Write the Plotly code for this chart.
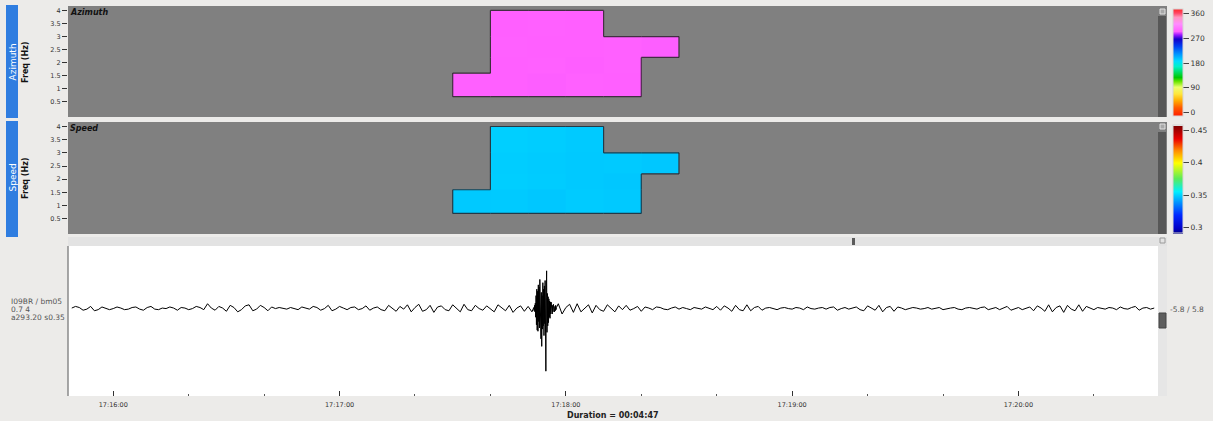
import numpy as np
import pandas as pd
import plotly.graph_objects as go

W, H = 1213, 421


def fx(px):
    return px / W


def fy(py):
    return 1 - py / H


DAY = "2021-03-14 "
record_start = "17:15:48"
record_end = "17:20:37"

# Detection cells: 10 s time windows x frequency bands
cell_time_edges = ["17:17:30", "17:17:40", "17:17:50", "17:18:00",
                   "17:18:10", "17:18:20", "17:18:30"]
freq_band_edges = [0.7, 1.6, 2.2, 3.0, 4.0]

azimuth_cells = [
    [293.4, 293.1, 292.8, 293.6, 293.2, None],
    [None, 293.0, 293.5, 292.9, 293.3, None],
    [None, 293.6, 293.2, 293.0, 293.4, 292.8],
    [None, 293.1, 293.4, 293.2, None, None],
]
speed_cells = [
    [0.3490, 0.3492, 0.3488, 0.3494, 0.3490, None],
    [None, 0.3500, 0.3496, 0.3490, 0.3488, None],
    [None, 0.3498, 0.3494, 0.3490, 0.3492, 0.3488],
    [None, 0.3502, 0.3498, 0.3492, None, None],
]

az_ticks = [0, 90, 180, 270, 360]
speed_ticks = [0.3, 0.35, 0.4, 0.45]
freq_ticks = [0.5, 1, 1.5, 2, 2.5, 3, 3.5, 4]

# Beam trace, 1 s samples starting 17:15:49
noise_values = [
    0.05, 0.20, 0.10, -0.15, -0.05, 0.20, -0.20, -0.10, 0.15, 0.05,
    -0.10, 0.00, 0.15, 0.05, -0.10, -0.05, 0.10, 0.15, -0.05, -0.15,
    0.10, 0.20, -0.05, -0.10, 0.05, 0.00, 0.15, 0.05, -0.15, 0.10,
    0.05, -0.10, 0.00, 0.20, 0.10, -0.10, 0.45, 0.05, -0.15, 0.20,
    0.05, -0.25, 0.30, 0.10, -0.30, -0.10, 0.25, 0.35, -0.20, -0.05,
    0.30, 0.10, -0.20, 0.15, 0.00, 0.10, 0.05, -0.05, 0.10, 0.00,
    -0.10, 0.15, 0.05, -0.05, 0.20, 0.10, -0.15, 0.00, 0.30, -0.20,
    -0.05, 0.20, 0.05, -0.10, 0.10, 0.15, -0.10, 0.00, 0.25, -0.15,
    0.05, 0.15, -0.10, -0.20, 0.30, 0.05, -0.25, 0.20, -0.05, 0.35,
    -0.30, 0.10, 0.40, -0.25, -0.10, 0.30, -0.35, 0.15, 0.25, -0.10,
    -0.20, 0.35, 0.05, -0.30, 0.40, -0.10, -0.20, 0.30, 0.00, -0.15,
    0.25, -0.05, -0.30, 0.35, 0.10, -0.20, 0.30, -0.35, 0.05, 0.25,
    -0.25, 0.20, -0.30, 0.50, -0.60, 0.70, -0.80, 0.60, -0.40, 0.45,
    -0.50, 0.10, 0.40, -0.35, 0.45, -0.30, 0.05, 0.35, -0.40, 0.30,
    -0.10, -0.25, 0.35, 0.05, -0.30, 0.25, -0.10, 0.30, -0.15, 0.00,
    0.20, -0.25, 0.15, 0.05, -0.10, 0.15, 0.10, -0.05, -0.10, 0.05,
    0.15, -0.05, 0.10, 0.00, -0.10, 0.10, 0.05, -0.05, 0.15, 0.00,
    -0.10, 0.20, -0.15, 0.25, 0.05, -0.25, 0.30, -0.10, -0.20, 0.35,
    -0.20, 0.10, 0.20, -0.15, 0.05, 0.10, 0.00, -0.10, 0.05, 0.10,
    0.00, -0.05, 0.10, 0.05, -0.10, 0.15, 0.00, -0.05, 0.05, 0.10,
    -0.05, 0.10, 0.15, -0.15, 0.00, 0.10, -0.05, 0.05, 0.15, -0.10,
    -0.20, 0.25, 0.05, -0.15, 0.30, -0.30, 0.10, 0.20, -0.25, 0.15,
    0.05, -0.10, 0.00, 0.10, 0.05, -0.05, 0.00, 0.10, -0.05, 0.05,
    0.10, -0.10, 0.00, 0.05, 0.10, -0.05, -0.10, 0.05, 0.10, 0.00,
    -0.05, 0.10, 0.15, -0.10, 0.00, 0.10, -0.10, 0.05, 0.20, -0.15,
    0.00, 0.10, -0.10, 0.05, 0.15, -0.20, 0.25, 0.05, -0.25, 0.35,
    -0.30, 0.10, 0.25, -0.35, 0.30, -0.05, -0.20, 0.35, -0.25, 0.20,
    0.05, -0.10, 0.10, 0.00, -0.05, 0.10, 0.05, -0.10, 0.15, 0.00,
    -0.05, 0.10, 0.20, -0.15, 0.05, 0.10, -0.05, 0.05,
]
noise_first = "17:15:49"

# Arrival, 0.1 s samples starting 17:17:51.5
burst_values = [
    0.1, -0.2, 0.3, -0.3, 0.5, -0.8, 1.2, -1.5, 1.8, -2.0,
    1.6, -2.1, 2.2, -1.2, 2.0, -1.8, 2.7, -2.4, 1.9, -2.8,
    1.5, -3.5, 1.2, -1.9, 2.4, -1.6, 1.8, -2.5, 2.1, -1.4,
    2.6, -3.0, -5.8, 1.0, 3.5, -2.2, 1.4, -1.6, 1.1, -1.3,
    0.9, -0.8, 0.7, -0.9, 0.6, -0.5, 0.6, -0.4, 0.4, -0.5,
    0.3, -0.3, 0.4, -0.2, 0.3, -0.3, 0.2, -0.2, 0.3, -0.1,
    0.1,
]
burst_first = "17:17:51.5"

FONT = "DejaVu Sans"

# Colour scales defined on data values
az_cmin, az_cmax = -15, 375
az_stops = [
    (-15, "rgb(255,30,0)"), (15, "rgb(255,90,0)"), (40, "rgb(255,170,0)"),
    (65, "rgb(255,230,60)"), (90, "rgb(235,255,110)"), (110, "rgb(110,230,0)"),
    (125, "rgb(0,200,0)"), (145, "rgb(0,220,100)"), (165, "rgb(0,240,200)"),
    (185, "rgb(0,220,255)"), (210, "rgb(0,150,255)"), (240, "rgb(0,60,240)"),
    (265, "rgb(20,0,200)"), (280, "rgb(150,20,255)"), (293, "rgb(255,95,255)"),
    (320, "rgb(255,140,255)"), (345, "rgb(255,150,190)"), (360, "rgb(255,70,100)"),
    (375, "rgb(255,40,40)"),
]
az_colorscale = [[(v - az_cmin) / (az_cmax - az_cmin), c] for v, c in az_stops]

sp_cmin, sp_cmax = 0.291, 0.457
sp_stops = [
    (0.291, "rgb(0,0,130)"), (0.30, "rgb(0,0,200)"), (0.32, "rgb(0,40,255)"),
    (0.34, "rgb(0,150,255)"), (0.356, "rgb(0,240,255)"), (0.376, "rgb(90,235,90)"),
    (0.40, "rgb(255,255,0)"), (0.419, "rgb(255,140,0)"), (0.437, "rgb(235,0,0)"),
    (0.457, "rgb(130,0,0)"),
]
sp_colorscale = [[(v - sp_cmin) / (sp_cmax - sp_cmin), c] for v, c in sp_stops]

x_edges = [pd.Timestamp(DAY + t) for t in cell_time_edges]


def outline(cells):
    """Boundary segments of the filled cell region."""
    nr, nc = len(cells), len(cells[0])

    def filled(r, c):
        return 0 <= r < nr and 0 <= c < nc and cells[r][c] is not None

    xs, ys = [], []
    for r in range(nr):
        for c in range(nc):
            if not filled(r, c):
                continue
            x0, x1 = x_edges[c], x_edges[c + 1]
            y0, y1 = freq_band_edges[r], freq_band_edges[r + 1]
            if not filled(r - 1, c):
                xs += [x0, x1, None]; ys += [y0, y0, None]
            if not filled(r + 1, c):
                xs += [x0, x1, None]; ys += [y1, y1, None]
            if not filled(r, c - 1):
                xs += [x0, x0, None]; ys += [y0, y1, None]
            if not filled(r, c + 1):
                xs += [x1, x1, None]; ys += [y0, y1, None]
    return xs, ys


def cbar(top_px, length, ticks, labels):
    return dict(
        x=fx(1173), xanchor="left", xpad=0,
        y=fy(top_px), yanchor="top", ypad=0,
        len=length, lenmode="pixels", thickness=10, thicknessmode="pixels",
        tickvals=ticks, ticktext=labels, ticks="outside", ticklen=6,
        tickcolor="#444", tickfont=dict(size=7.5, color="#333", family=FONT),
        outlinewidth=1, outlinecolor="#d6d6d6",
    )


fig = go.Figure()

fig.add_trace(go.Heatmap(
    x=x_edges, y=freq_band_edges, z=azimuth_cells,
    colorscale=az_colorscale, zmin=az_cmin, zmax=az_cmax,
    xaxis="x", yaxis="y", hoverinfo="skip",
    colorbar=cbar(9.5, 107, az_ticks, [str(v) for v in az_ticks]),
))
ox, oy = outline(azimuth_cells)
fig.add_trace(go.Scatter(x=ox, y=oy, mode="lines", xaxis="x", yaxis="y",
                         line=dict(color="rgba(45,35,45,0.85)", width=1.2),
                         hoverinfo="skip"))

fig.add_trace(go.Heatmap(
    x=x_edges, y=freq_band_edges, z=speed_cells,
    colorscale=sp_colorscale, zmin=sp_cmin, zmax=sp_cmax,
    xaxis="x2", yaxis="y2", hoverinfo="skip",
    colorbar=cbar(125.5, 108, speed_ticks, ["0.3", "0.35", "0.4", "0.45"]),
))
ox, oy = outline(speed_cells)
fig.add_trace(go.Scatter(x=ox, y=oy, mode="lines", xaxis="x2", yaxis="y2",
                         line=dict(color="rgba(30,40,50,0.85)", width=1.2),
                         hoverinfo="skip"))

# Waveform: background samples with the arrival segment spliced in
noise_t = pd.Timestamp(DAY + noise_first) + pd.to_timedelta(np.arange(len(noise_values)), unit="s")
burst_t = pd.Timestamp(DAY + burst_first) + pd.to_timedelta(np.arange(len(burst_values)) * 100, unit="ms")
keep = (noise_t < burst_t[0]) | (noise_t > burst_t[-1])
wave = pd.concat([
    pd.Series(np.array(noise_values)[keep], index=noise_t[keep]),
    pd.Series(burst_values, index=burst_t),
]).sort_index()
fig.add_trace(go.Scatter(x=wave.index, y=wave.values, mode="lines",
                         xaxis="x3", yaxis="y3", hoverinfo="skip",
                         line=dict(color="black", width=1)))

xdom = [fx(68), fx(1158)]
xrange_ = [DAY + record_start, DAY + record_end]
yaxis_common = dict(
    range=[-0.08, 4.17], tickvals=freq_ticks, ticks="outside", ticklen=5,
    tickcolor="#333", tickwidth=1, tickfont=dict(size=6.5, color="#333", family=FONT),
    showgrid=False, zeroline=False, fixedrange=True,
)
xaxis_top = dict(domain=xdom, type="date", range=xrange_, showticklabels=False,
                 ticks="", showgrid=False, zeroline=False)

shapes = []


def rect(x0, y0, x1, y1, fill, line=None, lw=0, layer="below"):
    shapes.append(dict(type="rect", xref="paper", yref="paper",
                       x0=fx(x0), x1=fx(x1), y0=fy(y1), y1=fy(y0),
                       fillcolor=fill, layer=layer,
                       line=dict(color=line or fill, width=lw)))


# Side tabs
rect(6, 5, 18, 118, "#2f7de0")
rect(6, 121, 18, 237, "#2f7de0")
# Spectral panels
rect(68, 6, 1167, 117, "#808080")
rect(68, 122, 1167, 234, "#808080")
rect(1158, 16, 1166, 117, "#575757", layer="above")
rect(1158, 132, 1166, 234, "#575757", layer="above")
rect(1160, 9, 1165, 14, "#a8a8a8", "#e0e0e0", 1, layer="above")
rect(1160, 124, 1165, 129, "#a8a8a8", "#e0e0e0", 1, layer="above")
# Trace panel frame, header and scrollbar
rect(68, 237, 1167, 246, "#e3e3e3")
rect(852, 238, 855, 245, "#5a5a5a", layer="above")
rect(1160, 238, 1165, 243, "#e3e3e3", "#9a9a9a", 1, layer="above")
rect(1158, 246, 1167, 396, "#e6e6e6", layer="above")
rect(1159, 313, 1166, 328, "#5e5e5e", "#444", 1, layer="above")
shapes.append(dict(type="line", xref="paper", yref="paper",
                   x0=fx(68), x1=fx(68), y0=fy(396), y1=fy(246),
                   line=dict(color="#8a8a8a", width=1.5), layer="above"))

ann = []


def text(x, y, s, size, color="#333", xanchor="left", angle=0, bold=False):
    ann.append(dict(xref="paper", yref="paper", x=fx(x), y=fy(y), text=s,
                    showarrow=False, xanchor=xanchor, yanchor="middle",
                    textangle=angle, borderpad=0,
                    font=dict(size=size, color=color, family=FONT,
                              weight="bold" if bold else "normal")))


text(12.5, 62, "Azimuth", 9, "white", "center", -90)
text(12.5, 178, "Speed", 9, "white", "center", -90)
text(25, 62, "Freq (Hz)", 8, "#111", "center", -90, bold=True)
text(25, 178, "Freq (Hz)", 8, "#111", "center", -90, bold=True)
text(69, 12.5, "<i>Azimuth</i>", 8, "#111", bold=True)
text(69, 128, "<i>Speed</i>", 8, "#111", bold=True)
text(10, 301, "I09BR / bm05", 7.5, "#555")
text(10, 309, "0.7 4", 7.5, "#555")
text(10, 317, "a293.20 s0.35", 7.5, "#555")
text(1169, 309, "-5.8 / 5.8", 7.5, "#555")
text(613, 415, "Duration = 00:04:47", 8, "#222", "center", bold=True)

fig.update_layout(
    width=W, height=H, autosize=False,
    margin=dict(l=0, r=0, t=0, b=0),
    paper_bgcolor="#ecebe9", plot_bgcolor="white",
    font=dict(family=FONT),
    showlegend=False,
    xaxis=dict(xaxis_top, anchor="y"),
    yaxis=dict(yaxis_common, domain=[fy(117), fy(6)], anchor="x"),
    xaxis2=dict(xaxis_top, anchor="y2", matches="x"),
    yaxis2=dict(yaxis_common, domain=[fy(234), fy(122)], anchor="x2"),
    xaxis3=dict(
        domain=xdom, type="date", range=xrange_, anchor="y3", matches="x",
        tickformat="%H:%M:%S", tick0=DAY + "17:16:00", dtick=60000,
        ticks="inside", ticklen=5, tickwidth=1, tickcolor="#333",
        ticklabelstandoff=3,
        tickfont=dict(size=6.5, color="#333", family=FONT),
        minor=dict(dtick=20000, ticks="inside", ticklen=2, tickcolor="#555"),
        showgrid=False, zeroline=False, showline=False,
    ),
    yaxis3=dict(domain=[fy(396), fy(246)], range=[-8.1, 5.8], visible=False,
                anchor="x3"),
    shapes=shapes, annotations=ann,
)

fig.write_html("out.html")
